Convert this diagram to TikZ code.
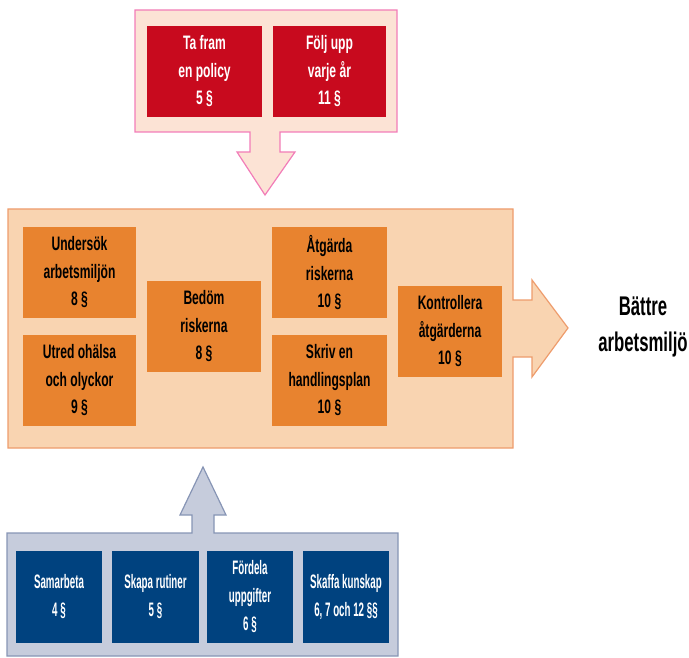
\documentclass[tikz,border=0pt]{standalone}
\usepackage{fontspec}
\setmainfont{Liberation Sans}[BoldFont={* Bold}]
\newfontfamily\narrowfont{Liberation Sans Bold}[FakeStretch=0.62]
\newfontfamily\slimfont{Liberation Sans Bold}[FakeStretch=0.5]

\definecolor{pinkline}{HTML}{F27DB8}
\definecolor{pinkfill}{HTML}{FCE3D5}
\definecolor{policyred}{HTML}{C80A1E}
\definecolor{peachfill}{HTML}{F9D4B1}
\definecolor{peachline}{HTML}{EE9C6C}
\definecolor{steporange}{HTML}{E8832F}
\definecolor{greyfill}{HTML}{C6CCDC}
\definecolor{greyline}{HTML}{8795B5}
\definecolor{baseblue}{HTML}{00427F}

\begin{document}
\begin{tikzpicture}[x=1pt,y=-1pt]
    % Define styles for the boxes
    \tikzstyle{stepbox} = [inner sep=0pt, minimum height=91, align=center, font=\narrowfont\fontsize{19.5}{27.5}\selectfont]
    \tikzstyle{redbox} = [stepbox, fill=policyred, text=white]
    \tikzstyle{orangebox} = [stepbox, fill=steporange, text=black]
    \tikzstyle{bluebox} = [stepbox, fill=baseblue, text=white, minimum height=92, font=\slimfont\fontsize{19.5}{28}\selectfont]

    \useasboundingbox (0,0) rectangle (689,658);

    % Background panels with their block arrows
    \draw[pinkline, fill=pinkfill, line width=1.2pt]
        (135,10) -- (397,10) -- (397,132) -- (280,132) -- (280,152) -- (295,152)
        -- (265,195) -- (237,152) -- (250,152) -- (250,132) -- (135,132) -- cycle;
    \draw[peachline, fill=peachfill, line width=1.2pt]
        (8,209) -- (513,209) -- (513,300) -- (532,300) -- (532,280) -- (568,328)
        -- (532,377) -- (532,357) -- (513,357) -- (513,448) -- (8,448) -- cycle;
    \draw[greyline, fill=greyfill, line width=1.2pt]
        (7,533) -- (192,533) -- (192,515) -- (180,515) -- (203,467) -- (226,515)
        -- (214,515) -- (214,533) -- (398,533) -- (398,656) -- (7,656) -- cycle;

    % Top row
    \node[redbox, minimum width=115] (policy) at (204.5,71.5) {Ta fram\\en policy\\5 §};
    \node[redbox, minimum width=113] (followup) at (329.5,71.5) {Följ upp\\varje år\\11 §};

    % Middle steps
    \node[orangebox, minimum width=113] (examine) at (79.5,272.5) {Undersök\\arbetsmiljön\\8 §};
    \node[orangebox, minimum width=113] (investigate) at (79.5,380.5) {Utred ohälsa\\och olyckor\\9 §};
    \node[orangebox, minimum width=114] (assess) at (204,326.5) {Bedöm\\riskerna\\8 §};
    \node[orangebox, minimum width=115] (remedy) at (329.5,272.5) {Åtgärda\\riskerna\\10 §};
    \node[orangebox, minimum width=115] (plan) at (329.5,380.5) {Skriv en\\handlingsplan\\10 §};
    \node[orangebox, minimum width=104] (check) at (450,331.5) {Kontrollera\\åtgärderna\\10 §};

    \node[align=center, font=\narrowfont\fontsize{27}{36}\selectfont] (result) at (643,327) {Bättre\\arbetsmiljö};

    % Bottom row
    \node[bluebox, minimum width=86] (cooperate) at (59,597) {Samarbeta\\4 §};
    \node[bluebox, minimum width=87] (routines) at (155.5,597) {Skapa rutiner\\5 §};
    \node[bluebox, minimum width=86] (tasks) at (250,597) {Fördela\\uppgifter\\6 §};
    \node[bluebox, minimum width=86] (knowledge) at (346,597) {Skaffa kunskap\\6, 7 och 12 §§};
\end{tikzpicture}
\end{document}
